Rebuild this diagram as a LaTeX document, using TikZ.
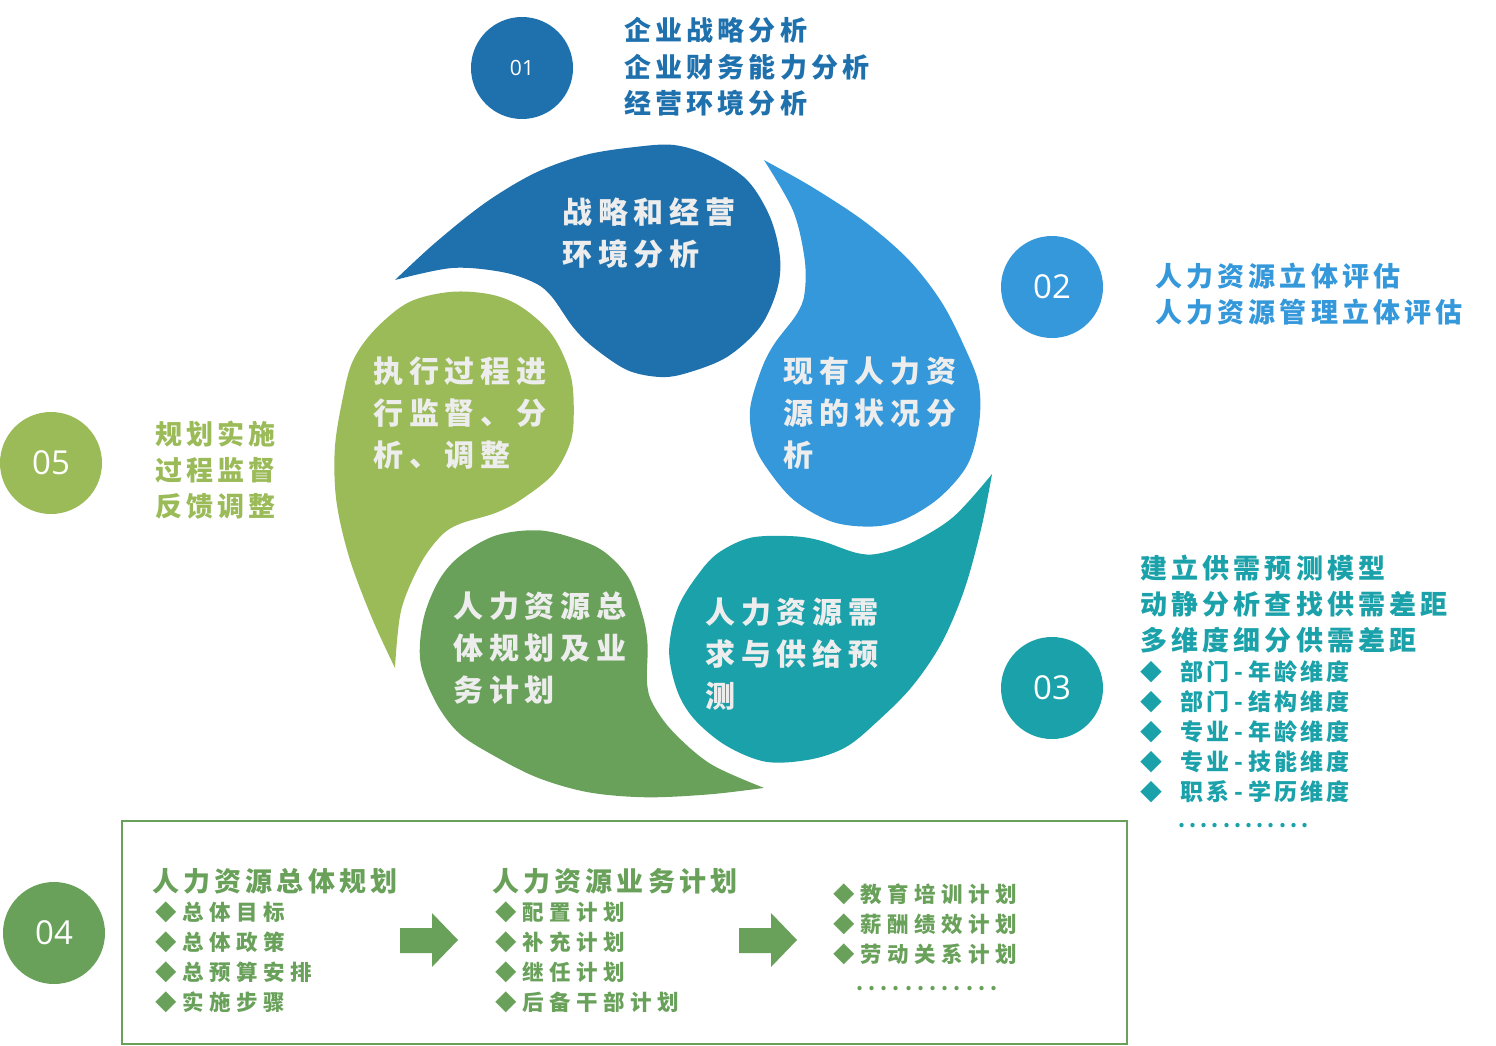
\documentclass[tikz,border=0pt]{standalone}
\usepackage{fontspec}
\newfontfamily\cjkA{Noto Sans CJK SC}[LetterSpace=19.5]
\newfontfamily\cjkB{Noto Sans CJK SC}[LetterSpace=15.5]
\newfontfamily\cjkC{Noto Sans CJK SC}[LetterSpace=26]
\newfontfamily\cjkD{Noto Sans CJK SC}[LetterSpace=14]
\newfontfamily\cjkN{Noto Sans CJK SC}
\newfontfamily\numf{Open Sans}
\definecolor{cA}{HTML}{1F71AD}
\definecolor{cB}{HTML}{3598DB}
\definecolor{cC}{HTML}{1AA1A9}
\definecolor{cD}{HTML}{69A15A}
\definecolor{cE}{HTML}{9BBB59}
\definecolor{ptxt}{HTML}{EDEDED}
\newcommand\mydots[2]{\foreach \k in {1,...,#1}{.\kern#2}}
\begin{document}
\begin{tikzpicture}[x=1pt,y=-1pt,
  petaltxt/.style={anchor=west, inner sep=0pt, text=ptxt, font=\cjkA\bfseries\fontsize{30}{36}\selectfont},
  hdr/.style={anchor=west, inner sep=0pt, font=\cjkB\bfseries\fontsize{27}{32}\selectfont},
  bul/.style={anchor=west, inner sep=0pt, text=cD, font=\cjkC\bfseries\fontsize{21.5}{26}\selectfont},
  lst/.style={anchor=west, inner sep=0pt, text=cC, font=\cjkD\bfseries\fontsize{23}{28}\selectfont},
  lstd/.style={inner sep=0pt, text=cC, font=\cjkN\fontsize{22}{26}\selectfont},
  numc/.style={circle, minimum size=102pt, inner sep=0pt, text=white, font=\numf\fontsize{33}{36}\selectfont},
  dotrow/.style={anchor=west, inner sep=0pt, font=\cjkN\bfseries\fontsize{20}{24}\selectfont},
  blockarrow/.style={fill=cD}
]
\useasboundingbox (0,0) rectangle (1496,1046);
% petals
\foreach \c/\r in {cA/0, cB/-72, cC/-144, cD/-216, cE/-288}{
  \fill[\c, shift={(662,474)}, rotate=\r] plot[smooth, tension=0.55] coordinates {
    (-267,-194) (-227,-231) (-177,-271) (-127,-301) (-77,-319) (-27,-327) (12,-329)
    (48,-318) (85,-294) (108,-257) (118,-217) (115,-184) (98,-147) (65,-117) (25,-101)
    (-2,-97) (-35,-104) (-69,-127) (-89,-147) (-110,-177) (-127,-191) (-160,-202)
    (-210,-206) (-267,-194)} -- cycle;
}
% petal texts
\node[petaltxt] (pa1) at (562,212) {战略和经营};
\node[petaltxt] (pa2) at (562,254) {环境分析};
\node[petaltxt] (pb1) at (783,371) {现有人力资};
\node[petaltxt] (pb2) at (783,413) {源的状况分};
\node[petaltxt] (pb3) at (783,455) {析};
\node[petaltxt] (pc1) at (705,612) {人力资源需};
\node[petaltxt] (pc2) at (705,654) {求与供给预};
\node[petaltxt] (pc3) at (705,696) {测};
\node[petaltxt] (pd1) at (453,606) {人力资源总};
\node[petaltxt] (pd2) at (453,648) {体规划及业};
\node[petaltxt] (pd3) at (453,690) {务计划};
\node[petaltxt] (pe1) at (373,371) {执行过程进};
\node[petaltxt] (pe2) at (373,413) {行监督、分};
\node[petaltxt] (pe3) at (373,455) {析、调整};
% number circles
\node[numc, fill=cA, font=\numf\fontsize{21}{24}\selectfont] (n1) at (522,68) {01};
\node[numc, fill=cB] (n2) at (1052,287) {02};
\node[numc, fill=cC] (n3) at (1052,688) {03};
\node[numc, fill=cD] (n4) at (54,933) {04};
\node[numc, fill=cE] (n5) at (51,463) {05};
% 01
\node[hdr, text=cA] (t1a) at (624,30) {企业战略分析};
\node[hdr, text=cA] (t1b) at (624,67) {企业财务能力分析};
\node[hdr, text=cA] (t1c) at (624,103) {经营环境分析};
% 02
\node[hdr, text=cB] (t2a) at (1155,276) {人力资源立体评估};
\node[hdr, text=cB] (t2b) at (1155,312) {人力资源管理立体评估};
% 03
\node[hdr, text=cC] (t3a) at (1140,568) {建立供需预测模型};
\node[hdr, text=cC] (t3b) at (1140,604) {动静分析查找供需差距};
\node[hdr, text=cC] (t3c) at (1140,640) {多维度细分供需差距};
\foreach \y/\a/\b/\n in {672/部门/年龄维度/1, 702/部门/结构维度/2, 732/专业/年龄维度/3, 762/专业/技能维度/4, 792/职系/学历维度/5}{
  \node[lstd] (d3\n) at (1151,\y) {◆};
  \node[lst] (l3\n) at (1180,\y) {\a\kern5pt-\kern5pt\b};
}
\node[dotrow, text=cC] (dots3) at (1178,826) {\mydots{12}{4.2pt}};
% 05
\node[hdr, text=cE] (t5a) at (155,434) {规划实施};
\node[hdr, text=cE] (t5b) at (155,470) {过程监督};
\node[hdr, text=cE] (t5c) at (155,506) {反馈调整};
% 04 box
\node[draw=cD, line width=2pt, minimum width=1005pt, minimum height=223pt, anchor=north west, inner sep=0pt] (box) at (121,820) {};
\node[hdr, text=cD] (h41) at (152,881) {人力资源总体规划};
\node[bul] (b11) at (155,912) {◆总体目标};
\node[bul] (b12) at (155,942) {◆总体政策};
\node[bul] (b13) at (155,972) {◆总预算安排};
\node[bul] (b14) at (155,1002) {◆实施步骤};
\node[hdr, text=cD] (h42) at (492,881) {人力资源业务计划};
\node[bul] (b21) at (495,912) {◆配置计划};
\node[bul] (b22) at (495,942) {◆补充计划};
\node[bul] (b23) at (495,972) {◆继任计划};
\node[bul] (b24) at (495,1002) {◆后备干部计划};
\node[bul] (b31) at (833,894) {◆教育培训计划};
\node[bul] (b32) at (833,924) {◆薪酬绩效计划};
\node[bul] (b33) at (833,954) {◆劳动关系计划};
\node[dotrow, text=cD] (dots4) at (856,989) {\mydots{12}{5.2pt}};
% block arrows
\fill[blockarrow] (400,928) -- (432,928) -- (432,913) -- (458,940) -- (432,967) -- (432,953) -- (400,953) -- cycle;
\fill[blockarrow] (739,928) -- (771,928) -- (771,913) -- (797,940) -- (771,967) -- (771,953) -- (739,953) -- cycle;
\end{tikzpicture}
\end{document}
